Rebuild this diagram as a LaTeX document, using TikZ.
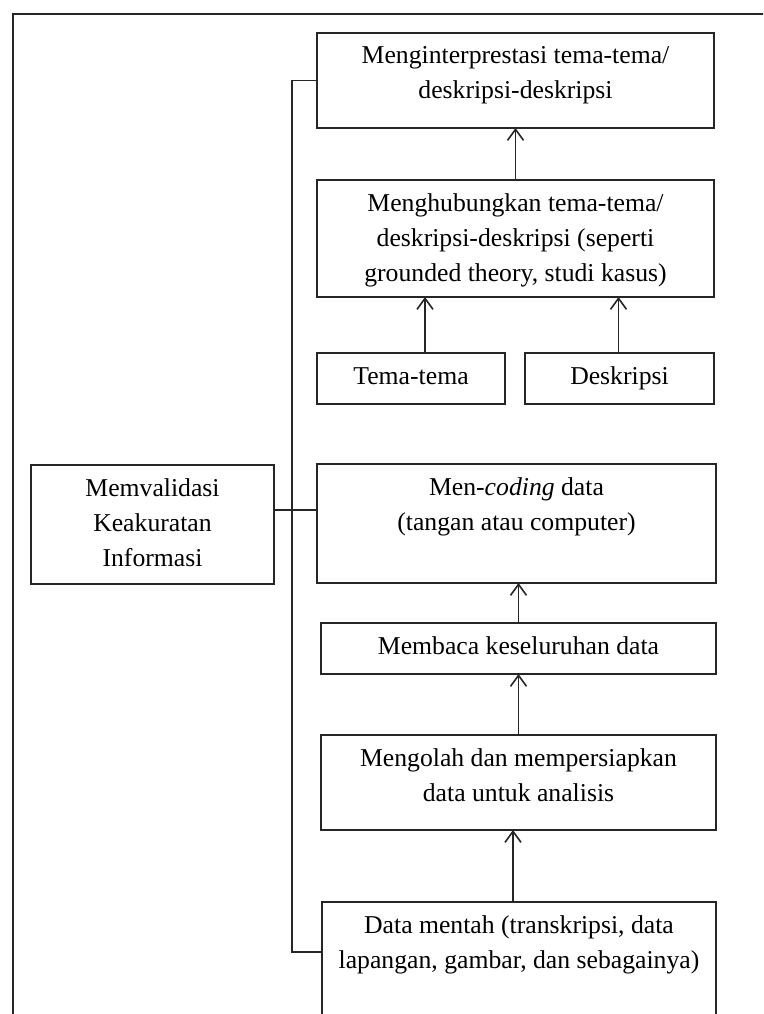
\documentclass[tikz,border=0pt]{standalone}
\usepackage{fontspec}
\setmainfont{Liberation Serif}
\usetikzlibrary{arrows.meta,calc}
\newcommand\mybox[6]{\node[bx] (#1) at ({(#2+#4)/2},{(#3+#5)/2}) {\parbox[c][\dimexpr #5pt-#3pt\relax][t]{\dimexpr #4pt-#2pt\relax}{\centering\rule{0pt}{31pt}#6\par}};}
\begin{document}
\begin{tikzpicture}[x=1pt,y=-1pt,
  bx/.style={draw=black!85,line width=1.6pt,inner sep=0pt,outer sep=0pt,font=\fontsize{25.7}{35}\selectfont,text=black},
  ln/.style={draw=black!85,line width=1.6pt},
  arr/.style={ln,-{Straight Barb[length=11pt,width=16pt,line width=1.6pt]}}]
\useasboundingbox (0,0) rectangle (763,1014);
\fill[white] (0,0) rectangle (763,1014);
\clip (0,0) rectangle (763,1014);
% outer frame (continues past the page edges)
\draw[ln] (13,1040) -- (13,14) -- (790,14);
% boxes
\mybox{b1}{317}{33}{714}{128}{Menginterprestasi tema-tema/\\deskripsi-deskripsi}
\mybox{b2}{317}{180}{714}{297}{Menghubungkan tema-tema/\\deskripsi-deskripsi (seperti\\grounded theory, studi kasus)}
\mybox{tema}{317}{353}{505}{404}{Tema-tema}
\mybox{desk}{525}{353}{714}{404}{Deskripsi}
\mybox{valid}{31}{465}{274}{584}{Memvalidasi\\Keakuratan\\Informasi}
\mybox{coding}{317}{464}{716}{583}{Men-\emph{coding} data\\(tangan atau computer)}
\mybox{baca}{321}{623}{716}{674}{Membaca keseluruhan data}
\mybox{olah}{321}{735}{716}{830}{Mengolah dan mempersiapkan\\data untuk analisis}
\mybox{raw}{322}{902}{716}{1060}{Data mentah (transkripsi, data\\lapangan, gambar, dan sebagainya)}
% arrows
\draw[arr] (b2.north) -- (b1.south);
\coordinate (t1) at ($(tema.north)+(14,0)$);
\draw[arr] (t1) -- (t1 |- b2.south);
\coordinate (d1) at ($(desk.north)+(-1,0)$);
\draw[arr] (d1) -- (d1 |- b2.south);
\draw[arr] (baca.north) -- (baca.north |- coding.south);
\draw[arr] (olah.north) -- (olah.north |- baca.south);
\coordinate (r1) at ($(raw.north)+(-6,0)$);
\draw[arr] (r1) -- (r1 |- olah.south);
% validation spine
\coordinate (spine) at (292,0);
\coordinate (rawl) at ($(raw.north west)+(0,50)$);
\draw[ln] (b1.west) -- (spine |- b1.west) -- (spine |- rawl) -- (rawl);
\coordinate (vl) at ($(valid.north east)+(0,45)$);
\draw[ln] (vl) -- (vl -| coding.west);
\end{tikzpicture}
\end{document}
